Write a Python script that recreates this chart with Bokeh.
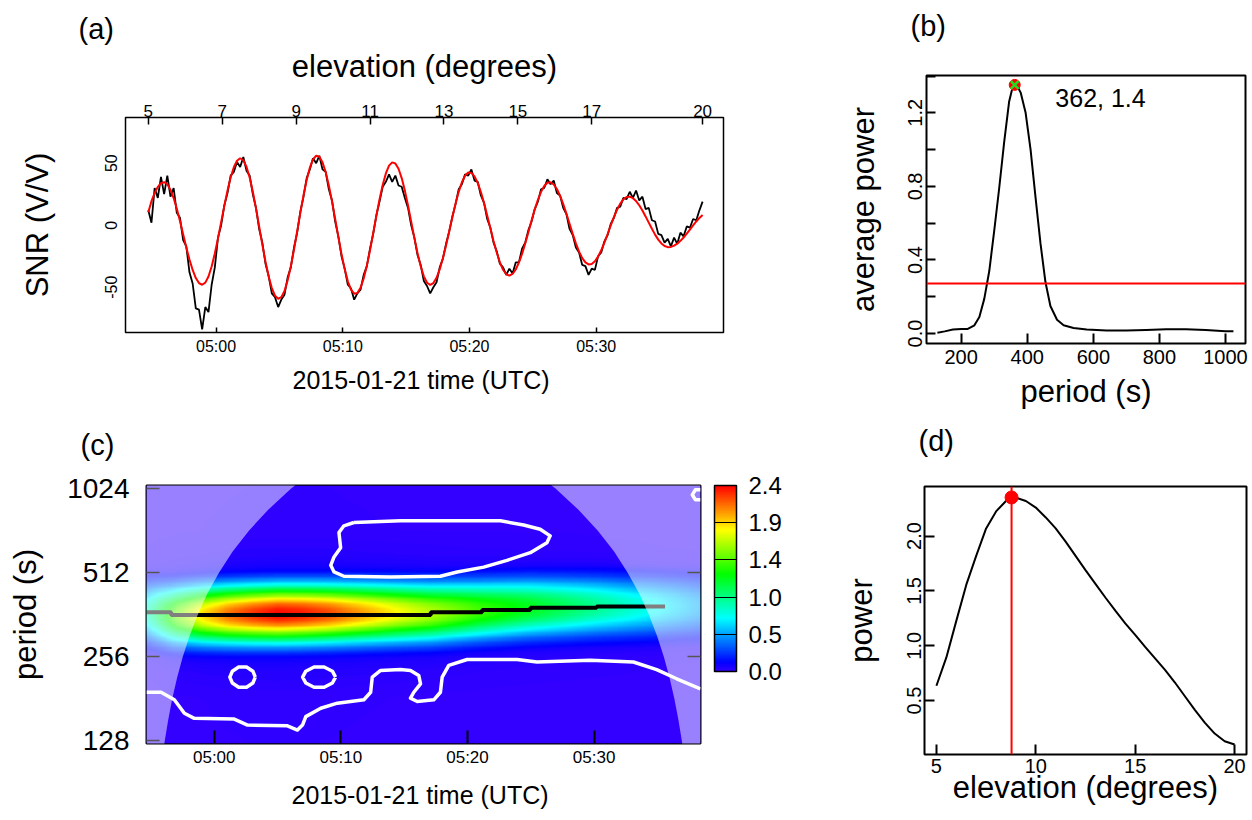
import colorsys
import numpy as np
from bokeh.embed import file_html
from bokeh.layouts import column, row
from bokeh.models import (ColorBar, FixedTicker, Label, LinearAxis, LinearColorMapper,
                          LogAxis, PrintfTickFormatter, Range1d, Span, Title)
from bokeh.plotting import figure
from bokeh.resources import INLINE

FONT = "Liberation Sans"

# ------------------------------------------------------------------ (a) SNR series
snr_start_min = -5.35      # first sample, minutes after 05:00 UTC
snr_step_min = 0.25        # sampling interval (minutes)
snr_observed = [
    12, 2, 30, 22, 39, 25, 40, 23, 30, 10,
    6, -12, -17, -38, -47, -67, -68, -84, -66, -70,
    -48, -34, -10, 0, 16, 26, 40, 43, 51, 47,
    55, 44, 40, 25, 14, -3, -14, -31, -41, -55,
    -58, -66, -60, -56, -42, -34, -18, -6, 11, 23,
    38, 45, 54, 50, 56, 45, 43, 29, 20, 3,
    -9, -25, -35, -48, -51, -60, -55, -52, -40, -33,
    -19, -7, 8, 19, 31, 35, 41, 35, 40, 32,
    31, 22, 14, 0, -10, -24, -32, -45, -49, -55,
    -50, -46, -34, -27, -15, -5, 7, 17, 29, 33,
    41, 40, 45, 36, 35, 24, 18, 5, -2, -14,
    -21, -31, -34, -40, -35, -39, -30, -30, -19, -14,
    -4, 3, 13, 19, 29, 30, 37, 33, 36, 26,
    24, 14, 9, -3, -8, -18, -22, -32, -33, -40,
    -35, -36, -25, -22, -13, -8, 1, 6, 14, 15,
    22, 21, 27, 22, 28, 20, 23, 13, 14, 4,
    3, -7, -8, -14, -11, -17, -10, -15, -6, -9,
    -1, -2, 5, 4, 12, 19]
snr_fitted = [
    10.5, 19.4, 25.9, 30.9, 33.9, 34.7, 33.0, 28.6, 21.9, 13.3,
    3.4, -7.3, -17.9, -27.7, -36.1, -42.6, -46.6, -48.0, -46.3, -41.3,
    -33.3, -22.8, -10.6, 2.5, 15.6, 27.9, 38.5, 46.7, 52.0, 54.0,
    52.4, 47.1, 38.4, 27.0, 13.6, -0.9, -15.6, -29.4, -41.3, -50.7,
    -56.8, -59.3, -58.0, -53.0, -44.4, -33.1, -19.6, -4.9, 10.0, 24.1,
    36.5, 46.4, 53.1, 56.0, 55.2, 50.7, 42.8, 32.1, 19.2, 5.1,
    -9.4, -23.2, -35.4, -45.2, -51.9, -55.2, -54.7, -50.5, -43.0, -32.6,
    -20.2, -6.4, 7.5, 20.8, 32.5, 41.7, 48.0, 50.7, 49.8, 45.5,
    38.0, 27.9, 15.9, 2.9, -10.2, -22.5, -33.1, -41.2, -46.4, -48.1,
    -46.6, -42.4, -35.6, -26.7, -16.3, -5.0, 6.4, 17.3, 26.9, 34.6,
    39.9, 42.5, 42.2, 39.4, 34.1, 26.8, 17.9, 7.9, -2.5, -12.7,
    -22.0, -29.9, -35.9, -39.5, -40.6, -39.3, -35.7, -30.2, -23.1, -14.7,
    -5.6, 3.7, 12.6, 20.5, 26.9, 31.6, 34.2, 34.6, 32.8, 29.2,
    23.8, 17.0, 9.4, 1.2, -7.0, -14.6, -21.3, -26.5, -30.0, -31.6,
    -31.2, -29.1, -25.3, -20.2, -14.0, -7.3, -0.2, 6.5, 12.5, 17.4,
    20.9, 22.8, 23.0, 21.8, 19.5, 16.1, 11.9, 7.1, 2.1, -2.9,
    -7.6, -11.6, -14.7, -16.8, -17.7, -17.5, -16.5, -14.9, -12.6, -9.9,
    -6.8, -3.5, -0.2, 3.0, 5.9, 8.3]
elev_first, elev_last = 5.0, 20.0          # elevation at first / last sample
time_ticks = [0, 10, 20, 30]
time_labels = ["05:00", "05:10", "05:20", "05:30"]
elev_ticks = [5, 7, 9, 11, 13, 15, 17, 20]
snr_ticks = [-50, 0, 50]

# ------------------------------------------------------------------ (b) average power
period_b = [128, 150, 175, 200, 220, 240, 255, 270, 285, 300, 315, 330, 345, 355, 362,
            370, 380, 395, 410, 425, 440, 455, 470, 490, 510, 540, 580, 640, 700, 760,
            820, 880, 940, 1000, 1024]
avg_power_b = [0.005, 0.012, 0.022, 0.025, 0.025, 0.045, 0.09, 0.19, 0.34, 0.56,
               0.79, 1.04, 1.26, 1.335, 1.352, 1.345, 1.31, 1.2, 1.0, 0.74,
               0.49, 0.28, 0.15, 0.075, 0.045, 0.03, 0.022, 0.017, 0.016, 0.02,
               0.024, 0.023, 0.019, 0.013, 0.012]
threshold_b = 0.272
peak_period_b, peak_power_b = 362, 1.352
period_ticks_b = [200, 400, 600, 800, 1000]
power_ticks_b = [0.0, 0.4, 0.8, 1.2]
power_minor_b = [0.2, 0.6, 1.0, 1.4]

# ------------------------------------------------------------------ (c) wavelet power
amp_time = [-5.35, -3, -1, 1, 3, 5, 7, 9, 11, 13, 15, 18, 21, 24, 27, 30, 33, 35, 38.4]
amp_power = [0.8, 1.5, 1.9, 2.15, 2.3, 2.4, 2.35, 2.25, 2.1, 1.95, 1.8, 1.6, 1.4, 1.25,
             1.1, 0.95, 0.8, 0.7, 0.5]
profile_octaves = [0, 0.05, 0.1, 0.15, 0.2, 0.25, 0.3, 0.35, 0.4, 0.45, 0.5, 0.55, 0.6,
                   0.7, 0.85, 1.0, 4.0]
profile_rel = [1, 0.98, 0.93, 0.84, 0.71, 0.58, 0.44, 0.30, 0.20, 0.12, 0.06, 0.035,
               0.025, 0.015, 0.01, 0.005, 0.0]
ridge_time = [-5.35, -3.4, 17.1, 21.15, 24.96, 30.2, 35.6]
ridge_period = [370, 362, 370, 377, 384, 388, 388]
coi_period = [119, 128, 152, 181, 215, 256, 304, 362, 431, 512, 609, 724, 861, 1024, 1097]
coi_left = [-4.00, -3.91, -3.64, -3.32, -2.94, -2.49, -1.95, -1.31, -0.55, 0.36, 1.44,
            2.72, 4.24, 6.05, 6.86]
coi_right = [37.02, 36.93, 36.66, 36.34, 35.96, 35.51, 34.97, 34.33, 33.57, 32.66, 31.59,
             30.31, 28.78, 26.97, 26.16]
sig_upper_t = [11.03, 14.71, 18.5, 22.6, 24.43, 25.74, 26.53, 26.27, 24.96, 23.12, 21.28,
               19.18, 17.86, 13.92, 10.24, 9.46, 9.2, 9.46, 9.98, 9.85, 10.24, 11.03]
sig_upper_p = [776, 787, 787, 787, 760, 734, 695, 657, 605, 568, 537, 516, 498, 495, 498,
               516, 545, 584, 630, 714, 755, 776]
sig_loop1_t = [3.24, 3.05, 2.55, 1.93, 1.43, 1.23, 1.43, 1.93, 2.55, 3.05, 3.24]
sig_loop1_p = [216.8, 227.6, 235.6, 235.6, 227.6, 216.8, 206.5, 199.4, 199.4, 206.5, 216.8]
sig_loop2_t = [9.58, 9.33, 8.68, 7.88, 7.23, 6.98, 7.23, 7.88, 8.68, 9.33, 9.58]
sig_loop2_p = [216.8, 227.6, 235.6, 235.6, 227.6, 216.8, 206.5, 199.4, 199.4, 206.5, 216.8]
sig_lower_t = [-5.35, -4.2, -3.15, -2.36, -1.58, 1.58, 2.63, 5.78, 6.57, 6.97, 7.23, 8.41,
               9.72, 11.82, 12.35, 12.48, 13.14, 14.7, 15.5, 16.15, 16.29, 15.76, 15.5,
               16.03, 17.34, 17.86, 18.0, 18.52, 19.97, 23.91, 25.48, 29.68, 33.1, 34.94,
               36.52, 38.4]
sig_lower_p = [191.3, 191.3, 179.8, 160.9, 154.3, 153.3, 146.0, 145.0, 140.1, 146.0, 156.5,
               167.7, 174.8, 179.8, 191.3, 216.8, 229.1, 230.7, 229.1, 219.8, 205.1, 191.3,
               182.3, 177.3, 179.8, 191.3, 216.8, 238.9, 250.7, 250.7, 245.6, 249.0, 245.6,
               230.7, 213.8, 196.7]
sig_corner_t = [38.4, 38.0, 37.75, 38.0, 38.4]
sig_corner_p = [1017, 1017, 975, 936, 936]
period_ticks_c = [128, 256, 512, 1024]
cbar_ticks = [0, 0.48, 0.96, 1.44, 1.92, 2.4]
power_max_c = 2.4

# ------------------------------------------------------------------ (d) power vs elevation
elev_d = [5.0, 5.5, 6.0, 6.5, 7.0, 7.5, 8.0, 8.5, 8.78, 9.0, 9.5, 10.0, 10.5, 11.0, 11.5,
          12.0, 12.5, 13.0, 13.5, 14.0, 14.5, 15.0, 15.5, 16.0, 16.5, 17.0, 17.5, 18.0,
          18.5, 19.0, 19.5, 20.0]
power_d = [0.636, 0.894, 1.227, 1.555, 1.82, 2.07, 2.225, 2.32, 2.352, 2.35, 2.32, 2.26,
           2.17, 2.07, 1.95, 1.82, 1.69, 1.565, 1.44, 1.32, 1.205, 1.10, 0.99, 0.885,
           0.78, 0.665, 0.54, 0.415, 0.30, 0.20, 0.13, 0.10]
peak_elev_d, peak_power_d = 8.78, 2.352
elev_ticks_d = [5, 10, 15, 20]
power_ticks_d = [0.5, 1.0, 1.5, 2.0]


# ================================================================== helpers
def make_fig(fw, fh, left, right, top, bottom, **kw):
    p = figure(output_backend="svg", toolbar_location=None,
               frame_width=fw, frame_height=fh,
               min_border_left=left, min_border_right=right,
               min_border_top=top, min_border_bottom=bottom, **kw)
    if "frame_align" in p.properties():
        p.frame_align = False
    p.grid.visible = False
    p.outline_line_color = "black"
    p.outline_line_alpha = 1.0
    p.outline_line_width = 2
    p.background_fill_color = "white"
    p.border_fill_color = "white"
    return p


def style_axis(ax, tick_px, label_px=None, tick_in=0, tick_w=1.5, tick_color="black"):
    ax.axis_line_color = None
    ax.major_tick_in = tick_in
    ax.major_tick_out = 0
    ax.major_tick_line_color = tick_color
    ax.major_tick_line_width = tick_w
    ax.minor_tick_line_color = None
    ax.major_label_text_font = FONT
    ax.major_label_text_font_size = f"{tick_px}px"
    ax.major_label_text_color = "black"
    ax.axis_label_text_font = FONT
    ax.axis_label_text_font_style = "normal"
    ax.axis_label_text_color = "black"
    if label_px:
        ax.axis_label_text_font_size = f"{label_px}px"


def panel_tag(p, text, offset, standoff, gap=0):
    if gap:
        # empty spacer between the frame and the panel tag
        p.add_layout(Title(text=" ", text_font_size="2px", standoff=gap - 2), "above")
    p.title.text = text
    p.title.align = "left"
    p.title.offset = offset
    p.title.standoff = standoff
    p.title.text_font = FONT
    p.title.text_font_size = "29px"
    p.title.text_font_style = "normal"
    p.title.text_color = "black"


# ================================================================== (a)
t_snr = snr_start_min + snr_step_min * np.arange(len(snr_observed))
t_first, t_last = float(t_snr[0]), float(t_snr[-1])
xa0, xa1 = -7.15, 40.05
elev_per_min = (elev_last - elev_first) / (t_last - t_first)

pa = make_fig(598, 215, 125, 77, 117, 88,
              x_range=Range1d(xa0, xa1), y_range=Range1d(-86.5, 86.85))
pa.outline_line_width = 1.5
pa.extra_x_ranges = {"elev": Range1d(elev_first + (xa0 - t_first) * elev_per_min,
                                     elev_first + (xa1 - t_first) * elev_per_min)}
pa.line(t_snr, snr_observed, line_color="black", line_width=1.8)
pa.line(t_snr, snr_fitted, line_color="#ff0000", line_width=2)

xa = pa.xaxis[0]
xa.ticker = FixedTicker(ticks=time_ticks)
xa.major_label_overrides = {k: v for k, v in zip(time_ticks, time_labels)}
xa.axis_label = "2015-01-21  time (UTC)"
style_axis(xa, 16, 25, tick_in=5)
xa.major_label_standoff = 5
xa.axis_label_standoff = 8

top = LinearAxis(x_range_name="elev", ticker=FixedTicker(ticks=elev_ticks),
                 axis_label="elevation (degrees)")
style_axis(top, 17, 31, tick_in=7)
top.major_label_standoff = 1
top.axis_label_standoff = 18
pa.add_layout(top, "above")

ya = pa.yaxis[0]
ya.ticker = FixedTicker(ticks=snr_ticks)
ya.major_label_overrides = {k: str(k) for k in snr_ticks}
ya.axis_label = "SNR (V/V)"
style_axis(ya, 16, 31, tick_in=0)
ya.major_tick_line_color = None
ya.major_label_orientation = "parallel"
ya.major_label_standoff = 8
ya.axis_label_standoff = 48
panel_tag(pa, "(a)", -47, 2)

# ================================================================== (b)
pb = make_fig(319, 268, 126, 7, 75, 77,
              x_range=Range1d(95, 1060.5), y_range=Range1d(-0.054, 1.403))
pb.add_layout(Span(location=threshold_b, dimension="width", line_color="#ff0000", line_width=2))
pb.line(period_b, avg_power_b, line_color="black", line_width=2)
pb.scatter([peak_period_b], [peak_power_b], marker="circle", size=11, fill_color="#ff0000",
           line_color="#ff0000")
pb.scatter([peak_period_b], [peak_power_b], marker="x", size=11, line_color="#22dd22",
           line_width=2.5)
pb.add_layout(Label(x=485, y=1.28, text=f"{peak_period_b:.0f}, {peak_power_b:.1f}",
                    text_font=FONT, text_font_size="25px", text_color="black",
                    text_align="left", text_baseline="middle"))
xb = pb.xaxis[0]
xb.ticker = FixedTicker(ticks=period_ticks_b)
xb.axis_label = "period (s)"
style_axis(xb, 20, 31, tick_in=10, tick_w=2)
xb.major_label_standoff = 6
xb.axis_label_standoff = 7
yb = pb.yaxis[0]
yb.ticker = FixedTicker(ticks=power_ticks_b, minor_ticks=power_minor_b)
yb.formatter = PrintfTickFormatter(format="%.1f")
yb.axis_label = "average power"
style_axis(yb, 20, 31, tick_in=9, tick_w=2)
yb.minor_tick_line_color = "black"
yb.minor_tick_line_width = 2
yb.minor_tick_in = 9
yb.minor_tick_out = 0
yb.major_label_orientation = "parallel"
yb.major_label_standoff = 4
yb.axis_label_standoff = 25
panel_tag(pb, "(b)", -16, 2, gap=31)

# ================================================================== (c)
palette = []
for i in range(256):
    r, g, b = colorsys.hsv_to_rgb(0.7 * (1 - i / 255), 1, 1)
    palette.append("#%02x%02x%02x" % (round(r * 255), round(g * 255), round(b * 255)))
mapper = LinearColorMapper(palette=palette, low=0, high=power_max_c)

p_lo, p_hi = 2 ** 6.97, 2 ** 10.04
pc = make_fig(554, 258, 146, 100, 65, 77,
              x_range=Range1d(t_first, t_last), y_range=Range1d(p_lo, p_hi), y_axis_type="log")

nx, ny = 440, 310
tt = np.linspace(t_first, t_last, nx)
lp = np.linspace(np.log2(p_lo), np.log2(p_hi), ny)
center = np.log2(np.interp(tt, ridge_time, ridge_period))
amp = np.interp(tt, amp_time, amp_power)
off = np.abs(lp[:, None] - center[None, :])
field = amp[None, :] * np.interp(off, profile_octaves, profile_rel)
pc.image(image=[field], x=t_first, y=p_lo, dw=t_last - t_first, dh=p_hi - p_lo,
         color_mapper=mapper)

pc.step(ridge_time, ridge_period, mode="after", line_color="black", line_width=4)
pc.patch([t_first] + coi_left + [t_first], [coi_period[0]] + coi_period + [coi_period[-1]],
         fill_color="white", fill_alpha=0.5, line_color=None)
pc.patch([t_last] + coi_right + [t_last], [coi_period[0]] + coi_period + [coi_period[-1]],
         fill_color="white", fill_alpha=0.5, line_color=None)
for xs, ys in [(sig_upper_t, sig_upper_p), (sig_loop1_t, sig_loop1_p),
               (sig_loop2_t, sig_loop2_p), (sig_lower_t, sig_lower_p),
               (sig_corner_t, sig_corner_p)]:
    pc.line(xs, ys, line_color="white", line_width=3.5, line_join="round")

xc = pc.xaxis[0]
xc.ticker = FixedTicker(ticks=time_ticks)
xc.major_label_overrides = {k: v for k, v in zip(time_ticks, time_labels)}
xc.axis_label = "2015-01-21  time (UTC)"
style_axis(xc, 17, 25, tick_in=13, tick_w=2)
xc.major_label_standoff = 4
xc.axis_label_standoff = 11
yc = pc.yaxis[0]
yc.ticker = FixedTicker(ticks=period_ticks_c)
yc.major_label_overrides = {k: str(k) for k in period_ticks_c}
yc.axis_label = "period (s)"
style_axis(yc, 28, 31, tick_in=13, tick_color="#555555")
yc.major_label_standoff = 17
yc.axis_label_standoff = 21
rc = LogAxis(ticker=FixedTicker(ticks=period_ticks_c[1:3]))
style_axis(rc, 11, None, tick_in=13, tick_color="#555555")
rc.major_label_overrides = {k: " " for k in period_ticks_c[1:3]}
rc.major_label_standoff = 8
pc.add_layout(rc, "right")
cb = ColorBar(color_mapper=mapper, ticker=FixedTicker(ticks=cbar_ticks),
              formatter=PrintfTickFormatter(format="%.1f"), width=22, height=186,
              location="top_left", padding=0, margin=0, label_standoff=12,
              major_tick_in=22, major_tick_out=0, major_tick_line_color="black",
              major_tick_line_width=1, bar_line_color="black", bar_line_width=1.5,
              major_label_text_font=FONT, major_label_text_font_size="24px",
              major_label_text_color="black", background_fill_color=None,
              border_line_color=None)
pc.add_layout(cb, "right")
panel_tag(pc, "(c)", -66, 2, gap=22)

# ================================================================== (d)
pdd = make_fig(322, 268, 124, 6, 66, 66,
               x_range=Range1d(4.4, 20.6), y_range=Range1d(0.009, 2.452))
pdd.add_layout(Span(location=peak_elev_d, dimension="height", line_color="#ff0000", line_width=2))
pdd.line(elev_d, power_d, line_color="black", line_width=2)
pdd.scatter([peak_elev_d], [peak_power_d], marker="circle", size=13, fill_color="#ff0000",
            line_color="#ff0000")
xd = pdd.xaxis[0]
xd.ticker = FixedTicker(ticks=elev_ticks_d)
xd.axis_label = "elevation (degrees)"
style_axis(xd, 20, 31, tick_in=10, tick_w=2)
xd.major_label_standoff = 4
xd.axis_label_standoff = -6
yd = pdd.yaxis[0]
yd.ticker = FixedTicker(ticks=power_ticks_d)
yd.formatter = PrintfTickFormatter(format="%.1f")
yd.axis_label = "power"
style_axis(yd, 20, 31, tick_in=10, tick_w=2)
yd.major_label_orientation = "parallel"
yd.major_label_standoff = 3
yd.axis_label_standoff = 26
panel_tag(pdd, "(d)", -6, 2, gap=27)

layout = column(row(pa, pb), row(pc, pdd))
open("out.html", "w").write(file_html(layout, INLINE))
